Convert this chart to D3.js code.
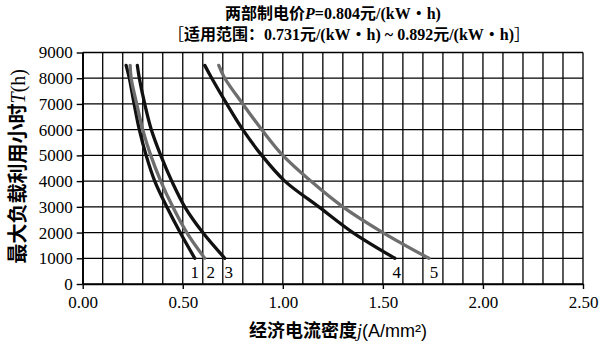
<!DOCTYPE html>
<html>
<head>
<meta charset="utf-8">
<script src="https://cdn.jsdelivr.net/npm/d3@7"></script>
<style>
  body { margin: 0; background: #fff; }
  svg text { font-family: "Liberation Serif", "Noto Sans CJK SC", serif; fill: #000; }
  .cjk { font-family: "Noto Sans CJK SC", sans-serif; }
</style>
</head>
<body>
<svg id="chart"></svg>
<script>
// hours T and economic current density j for each curve
const hours = [8500, 8000, 7000, 6000, 5000, 4000, 3000, 2000, 1000];
const curve1 = [0.217, 0.233, 0.257, 0.283, 0.317, 0.36, 0.42, 0.487, 0.56];
const curve2 = [0.237, 0.242, 0.27, 0.30, 0.34, 0.39, 0.45, 0.52, 0.61];
const curve3 = [0.273, 0.283, 0.31, 0.343, 0.39, 0.445, 0.51, 0.60, 0.71];
const curve4 = [0.61, 0.645, 0.72, 0.80, 0.895, 1.01, 1.18, 1.35, 1.56];
const curve5 = [0.68, 0.71, 0.80, 0.895, 1.00, 1.14, 1.30, 1.50, 1.73];
const curveNames = ["1", "2", "3", "4", "5"];
const xTicks = [0, 0.5, 1.0, 1.5, 2.0, 2.5];
const yTicks = [0, 1000, 2000, 3000, 4000, 5000, 6000, 7000, 8000, 9000];

const W = 600, H = 343;
const margin = {top: 52.5, right: 17, bottom: 59, left: 82.7};
const w = W - margin.left - margin.right;
const h = H - margin.top - margin.bottom;

const svg = d3.select("#chart").attr("width", W).attr("height", H);
const g = svg.append("g").attr("transform", `translate(${margin.left},${margin.top})`);

const x = d3.scaleLinear().domain([0, 2.5]).range([0, w]);
const y = d3.scaleLinear().domain([0, 9000]).range([h, 0]);

// grid
g.append("g").selectAll("line")
  .data(d3.range(0, 26).map(i => i / 10))
  .enter().append("line")
  .attr("x1", d => x(d)).attr("x2", d => x(d))
  .attr("y1", 0).attr("y2", h)
  .attr("stroke", "#000").attr("stroke-width", 1.3);
g.append("g").selectAll("line")
  .data(yTicks)
  .enter().append("line")
  .attr("x1", 0).attr("x2", w)
  .attr("y1", d => y(d)).attr("y2", d => y(d))
  .attr("stroke", "#000").attr("stroke-width", 1.3);

const xAxis = g.append("g")
  .attr("transform", `translate(0,${h})`)
  .call(d3.axisBottom(x).tickValues(xTicks).tickFormat(d3.format(".2f")).tickSize(5).tickSizeOuter(0));
const yAxis = g.append("g")
  .call(d3.axisLeft(y).tickValues(yTicks).tickFormat(d => d).tickSize(6).tickSizeOuter(0));
[xAxis, yAxis].forEach(a => {
  a.attr("font-family", null);
  a.select(".domain").attr("stroke", "#000").attr("stroke-width", 1.5);
  a.selectAll(".tick line").attr("stroke", "#000").attr("stroke-width", 1.4);
  a.selectAll("text").attr("font-size", 17).attr("fill", "#000")
    .style("font-family", "'Liberation Serif', serif");
});
xAxis.selectAll("text").attr("dy", "0.95em");
yAxis.selectAll("text").attr("dx", "-0.05em");

// curves
const series = [curve1, curve2, curve3, curve4, curve5];
const colors = ["#111", "#6e6e6e", "#111", "#111", "#6e6e6e"];
const labelShift = [0, 6, 4, 2, 5];
const line = d3.line()
  .x(d => x(d[0])).y(d => y(d[1]))
  .curve(d3.curveCatmullRom);

series.forEach((s, i) => {
  const pts = s.map((v, k) => [v, hours[k]]);
  g.append("path")
    .attr("d", line(pts))
    .attr("fill", "none")
    .attr("stroke", colors[i])
    .attr("stroke-width", 3.3)
    .attr("stroke-linecap", "round");
  g.append("text")
    .attr("x", x(s[s.length - 1]) + labelShift[i])
    .attr("y", y(hours[hours.length - 1]) + 20)
    .attr("text-anchor", "middle")
    .attr("font-size", 17)
    .text(curveNames[i]);
});

// titles
const t1 = svg.append("text").attr("x", 333).attr("y", 19).attr("text-anchor", "middle")
  .attr("font-size", 16).attr("font-weight", "bold");
t1.append("tspan").attr("class", "cjk").text("两部制电价");
t1.append("tspan").attr("font-style", "italic").text("P");
t1.append("tspan").text("=0.804");
t1.append("tspan").attr("class", "cjk").text("元");
t1.append("tspan").text("/(kW");
t1.append("tspan").attr("class", "cjk").text("・");
t1.append("tspan").text("h)");

const t2 = svg.append("text").attr("x", 349).attr("y", 40).attr("text-anchor", "middle")
  .attr("font-size", 16).attr("font-weight", "bold");
t2.append("tspan").attr("class", "cjk").attr("font-weight", "normal").text("［");
t2.append("tspan").attr("class", "cjk").text("适用范围：");
t2.append("tspan").text("0.731");
t2.append("tspan").attr("class", "cjk").text("元");
t2.append("tspan").text("/(kW");
t2.append("tspan").attr("class", "cjk").text("・");
t2.append("tspan").text("h) ~ 0.892");
t2.append("tspan").attr("class", "cjk").text("元");
t2.append("tspan").text("/(kW");
t2.append("tspan").attr("class", "cjk").text("・");
t2.append("tspan").text("h)");
t2.append("tspan").attr("class", "cjk").attr("font-weight", "normal").text("］");

// axis titles
const yl = svg.append("text")
  .attr("transform", `translate(25,${margin.top + h / 2 - 2}) rotate(-90)`)
  .attr("text-anchor", "middle").attr("font-size", 20).attr("font-weight", "bold");
yl.append("tspan").attr("class", "cjk").text("最大负载利用小时");
yl.append("tspan").attr("font-style", "italic").attr("font-weight", "normal").text("T");
yl.append("tspan").attr("font-weight", "normal").text("(h)");

const xl = svg.append("text")
  .attr("x", 338).attr("y", 337)
  .attr("text-anchor", "middle").attr("font-size", 18).attr("font-weight", "bold");
xl.append("tspan").attr("class", "cjk").text("经济电流密度");
xl.append("tspan").attr("font-style", "italic").attr("font-weight", "normal").text("j");
xl.append("tspan").attr("font-weight", "normal").style("font-family", "Liberation Sans").text("(A/mm²)");
</script>
</body>
</html>
